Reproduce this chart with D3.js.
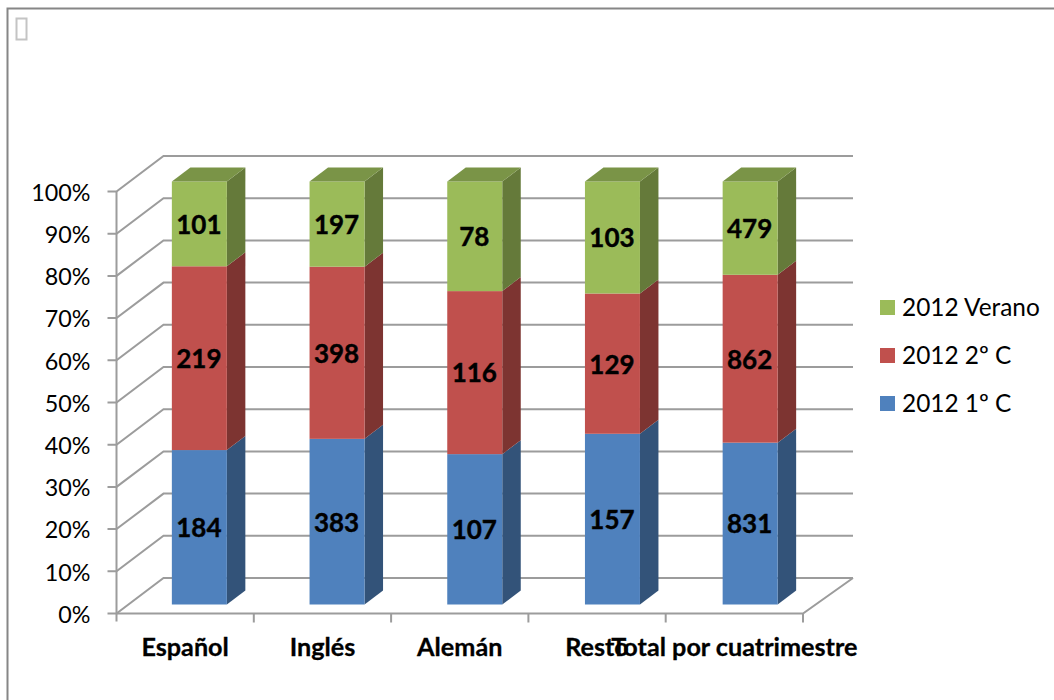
<!DOCTYPE html>
<html><head><meta charset="utf-8">
<style>html,body{margin:0;padding:0;background:#fff}svg{display:block}text{font-family:Lato,"Open Sans",sans-serif;fill:#000}</style>
<script src="https://cdn.jsdelivr.net/npm/d3@7"></script></head>
<body><svg id="c" width="1054" height="700"></svg>
<script>
const categories=["Español","Inglés","Alemán","Resto","Total por cuatrimestre"];
const seriesNames=["2012 1º C","2012 2º C","2012 Verano"];
const primero=[184,383,107,157,831];
const segundo=[219,398,116,129,862];
const verano=[101,197,78,103,479];
const tickValues=[0,.1,.2,.3,.4,.5,.6,.7,.8,.9,1];
const frontColors=["#4f81bd","#c0504d","#9bbb59"];
const sideColors=["#335379","#7d3431","#657a3a"];
const topColors=["#3f6797","#9a403d","#7a9447"];

const svg=d3.select("#c");
const M={x0:116.5,x1:803,y0:613.5,y1:191.5,dx:47,dy:35.5,bx:14,bdx:18.5,bdy:14};
const x=d3.scaleBand().domain(categories).range([M.x0,M.x1]);
const y=d3.scaleLinear().domain([0,1]).range([M.y0,M.y1]);
const xBar=d3.scaleBand().domain(categories).range([116.5,805]);
const yBar=d3.scaleLinear().domain([0,1]).range([604.5,181.5]);
const gridC="#9c9c9c";

// frame
svg.append("path").attr("d","M7.5,700V8.5H1054").attr("fill","none").attr("stroke","#868686").attr("stroke-width",2);
svg.append("rect").attr("x",16.5).attr("y",18.5).attr("width",10).attr("height",21).attr("fill","#fff").attr("stroke","#c4c4c4").attr("stroke-width",2);

// grid, walls
const g=svg.append("g").attr("fill","none").attr("stroke",gridC).attr("stroke-width",2);
tickValues.forEach(t=>{
  const yy=y(t);
  g.append("path").attr("d",d3.line()([[M.x0-9,yy],[M.x0,yy],[M.x0+M.dx,yy-M.dy],[M.x1+M.dx+3,yy-M.dy]]));
});
g.append("path").attr("d",d3.line()([[M.x0,y(1)],[M.x0,y(0)+8]]));
g.append("path").attr("d",d3.line()([[M.x0,y(0)],[M.x1,y(0)],[M.x1+M.dx+3,y(0)-M.dy]]));
categories.forEach(c=>{
  const xx=x(c)+x.bandwidth();
  g.append("path").attr("d",d3.line()([[xx,y(0)],[xx,y(0)+9]]));
});

// bars
const series=[primero,segundo,verano];
categories.forEach((c,i)=>{
  const total=primero[i]+segundo[i]+verano[i];
  let cum=0;
  const w=55;
  const left=xBar(c)+xBar.bandwidth()/2-w/2+M.bx;
  const right=left+w;
  const bar=svg.append("g");
  series.forEach((s,k)=>{
    const a=cum/total, b=(cum+s[i])/total; cum+=s[i];
    const ya=yBar(a), yt=yBar(b);
    bar.append("path").attr("fill",sideColors[k])
      .attr("d",d3.line()([[right,ya],[right+M.bdx,ya-M.bdy],[right+M.bdx,yt-M.bdy],[right,yt]])+"Z");
    bar.append("rect").attr("x",left).attr("y",yt).attr("width",w).attr("height",ya-yt).attr("fill",frontColors[k]);
    if(k===2) bar.append("path").attr("fill",topColors[k])
      .attr("d",d3.line()([[left,yt],[left+M.bdx,yt-M.bdy],[right+M.bdx,yt-M.bdy],[right,yt]])+"Z");
    bar.append("text").attr("x",(left+right)/2-0.5).attr("y",(ya+yt)/2+0.5).attr("dy","0.36em")
      .attr("text-anchor","middle").attr("font-size",26).attr("font-weight",700)
      .attr("stroke","#000").attr("stroke-width",0.4).text(s[i]);
  });
});

// y tick labels
tickValues.forEach(t=>{
  svg.append("text").attr("x",90.5).attr("y",y(t)+1).attr("dy","0.36em").attr("text-anchor","end")
    .attr("font-size",23.3).text(d3.format(".0%")(t));
});
// x labels
categories.forEach(c=>{
  svg.append("text").attr("x",x(c)+x.bandwidth()/2).attr("y",656).attr("text-anchor","middle")
    .attr("font-size",25.2).attr("font-weight",700).attr("stroke","#000").attr("stroke-width",0.3).text(c);
});
// legend
const legY=d3.scalePoint().domain(["2012 Verano","2012 2º C","2012 1º C"]).range([307.5,403.5]);
seriesNames.forEach((n,k)=>{
  svg.append("rect").attr("x",880).attr("y",legY(n)-7.5).attr("width",15).attr("height",15).attr("fill",frontColors[k]);
  svg.append("text").attr("x",902).attr("y",legY(n)).attr("dy","0.36em").attr("font-size",24.4).text(n);
});
</script></body></html>
